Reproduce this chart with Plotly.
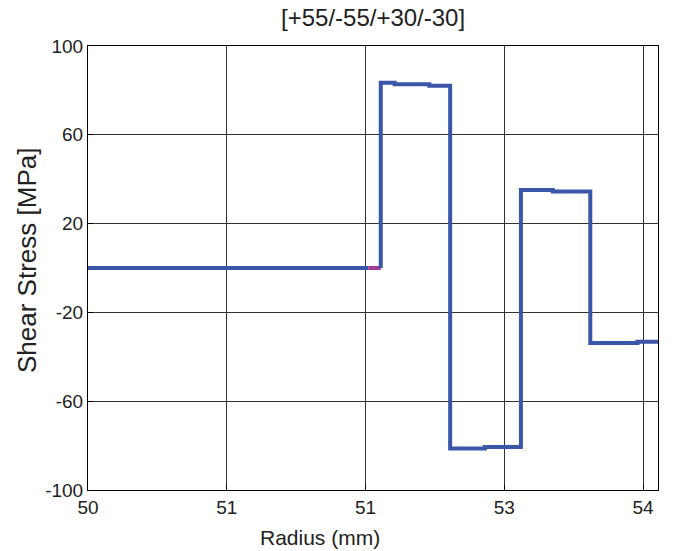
import plotly.graph_objects as go

# Data
radius_core = [50.0, 52.02]
stress_core = [0.0, 0.0]

radius_adh = [52.02, 52.11]
stress_adh = [0.0, 0.0]

radius_plies = [52.11, 52.11, 52.21, 52.46, 52.61, 52.86, 53.12, 53.35, 53.62, 53.96, 54.11]
stress_plies = [0.0, 83.5, 82.8, 82.1, -81.3, -80.6, 35.1, 34.5, -33.8, -33.2, -33.2]

x_tickvals = [50, 51, 52, 53, 54]
x_ticktext = ["50", "51", "51", "53", "54"]
y_tickvals = [-100, -60, -20, 20, 60, 100]
y_ticktext = ["-100", "-60", "-20", "20", "60", "100"]

blue = "#3a56a8"
purple = "#a03c96"

W, H = 687, 551
L, R, T, B = 88, 29, 46, 61
pw, ph = W - L - R, H - T - B

fig = go.Figure()
fig.add_trace(go.Scatter(x=radius_core, y=stress_core, mode="lines",
                         line=dict(color=blue, width=4), showlegend=False))
fig.add_trace(go.Scatter(x=radius_adh, y=stress_adh, mode="lines",
                         line=dict(color=purple, width=4), showlegend=False))
fig.add_trace(go.Scatter(x=radius_plies, y=stress_plies, mode="lines",
                         line=dict(color=blue, width=4, shape="hv"), showlegend=False))

font = "Liberation Sans, Arial, sans-serif"
fig.update_layout(
    width=W, height=H,
    margin=dict(l=L, r=R, t=T, b=B),
    paper_bgcolor="white", plot_bgcolor="white",
    font=dict(family=font, color="#222222", size=19),
    xaxis=dict(range=[50, 54.108], tickvals=x_tickvals, ticktext=x_ticktext,
               showgrid=True, gridcolor="#333333", gridwidth=1,
               showline=True, linecolor="black", linewidth=1, mirror=True,
               ticks="inside", ticklen=5, tickcolor="black", zeroline=False,
               tickfont=dict(size=19)),
    yaxis=dict(range=[-100, 100], tickvals=y_tickvals, ticktext=y_ticktext,
               showgrid=True, gridcolor="#333333", gridwidth=1,
               showline=True, linecolor="black", linewidth=1, mirror=True,
               ticks="inside", ticklen=5, tickcolor="black", zeroline=False,
               tickfont=dict(size=19)),
    annotations=[
        dict(text="[+55/-55/+30/-30]", xref="paper", yref="paper",
             x=0.5, y=1 + (T - 18) / ph, xanchor="center", yanchor="middle",
             showarrow=False, font=dict(size=24, family=font, color="#222222")),
        dict(text="Radius (mm)", xref="paper", yref="paper",
             x=(320 - L) / pw, y=-(537 - (T + ph)) / ph, xanchor="center", yanchor="middle",
             showarrow=False, font=dict(size=21, family=font, color="#222222")),
        dict(text="Shear Stress [MPa]", xref="paper", yref="paper",
             x=-(L - 27) / pw, y=1 - (261 - T) / ph, xanchor="center", yanchor="middle",
             textangle=-90, showarrow=False, font=dict(size=26, family=font, color="#222222")),
    ],
)

fig.write_html("out.html")
